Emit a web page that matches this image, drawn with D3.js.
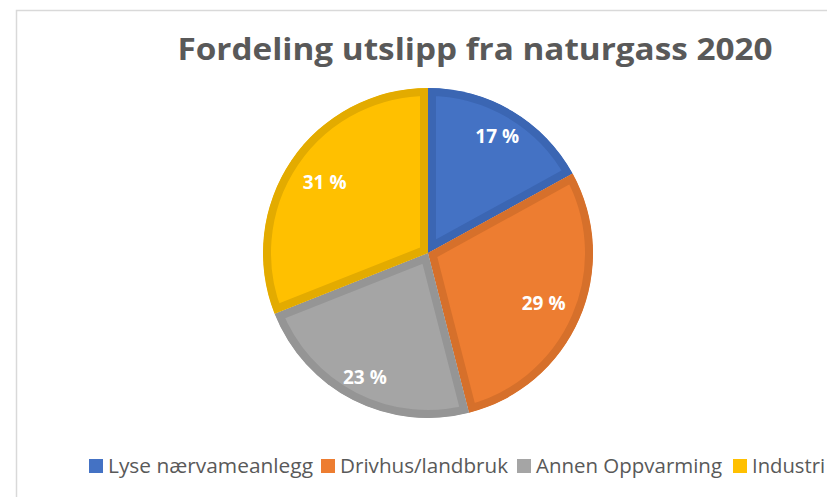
<!DOCTYPE html>
<html>
<head>
<meta charset="utf-8">
<script src="https://cdn.jsdelivr.net/npm/d3@7"></script>
<style>
  html, body { margin: 0; padding: 0; background: #fff; }
  svg { display: block; }
</style>
</head>
<body>
<svg id="chart" width="827" height="497"></svg>
<script>
const title = "Fordeling utslipp fra naturgass 2020";
const categories = ["Lyse nærvameanlegg", "Drivhus/landbruk", "Annen Oppvarming", "Industri"];
const values = [17, 29, 23, 31];
const labels = ["17 %", "29 %", "23 %", "31 %"];

const fills = ["#4472C4", "#ED7D31", "#A5A5A5", "#FFC000"];
const strokes = ["#3B66B3", "#D6702B", "#959595", "#E3AB00"];
const labelRadius = [136, 126, 139, 125];

const svg = d3.select("#chart");
const W = 827, H = 497;

// chart frame
svg.append("rect")
  .attr("x", 16.5).attr("y", 10.5)
  .attr("width", W + 20).attr("height", H + 20)
  .attr("fill", "#fff").attr("stroke", "#d9d9d9").attr("stroke-width", 1.5);

// title
svg.append("text")
  .attr("x", 475).attr("y", 60)
  .attr("text-anchor", "middle")
  .attr("font-family", "'Open Sans', sans-serif")
  .attr("font-weight", "bold")
  .attr("font-size", 30)
  .attr("fill", "#595959")
  .attr("textLength", 595)
  .attr("lengthAdjust", "spacingAndGlyphs")
  .text(title);

// pie
const cx = 428, cy = 253, R = 165, sw = 8;
const pie = d3.pie().sort(null).value(d => d);
const arcs = pie(values);
const arc = d3.arc().innerRadius(0).outerRadius(R);

const defs = svg.append("defs");
defs.selectAll("clipPath")
  .data(arcs)
  .join("clipPath")
  .attr("id", (d, i) => "clip" + i)
  .append("path")
  .attr("d", arc);

const g = svg.append("g").attr("transform", `translate(${cx},${cy})`);
g.selectAll("path.slice")
  .data(arcs)
  .join("path")
  .attr("class", "slice")
  .attr("d", arc)
  .attr("fill", (d, i) => fills[i])
  .attr("stroke", (d, i) => strokes[i])
  .attr("stroke-width", sw * 2)
  .attr("stroke-linejoin", "miter")
  .attr("clip-path", (d, i) => `url(#clip${i})`);

g.selectAll("text.lbl")
  .data(arcs)
  .join("text")
  .attr("class", "lbl")
  .attr("transform", (d, i) => {
    const la = d3.arc().innerRadius(labelRadius[i]).outerRadius(labelRadius[i]);
    return `translate(${la.centroid(d)})`;
  })
  .attr("text-anchor", "middle")
  .attr("dy", "0.35em")
  .attr("font-family", "'Open Sans', sans-serif")
  .attr("font-weight", "bold")
  .attr("font-size", 19)
  .attr("fill", "#fff")
  .text((d, i) => labels[i]);

// legend
const legendX = [89, 321, 517, 733];
const legendW = [205, 168, 186, 73];
const lg = svg.append("g");
categories.forEach((c, i) => {
  lg.append("rect")
    .attr("x", legendX[i]).attr("y", 459)
    .attr("width", 14).attr("height", 14)
    .attr("fill", fills[i]);
  lg.append("text")
    .attr("x", legendX[i] + 19).attr("y", 473)
    .attr("font-family", "'Open Sans', sans-serif")
    .attr("font-size", 20)
    .attr("fill", "#595959")
    .attr("textLength", legendW[i])
    .attr("lengthAdjust", "spacingAndGlyphs")
    .text(c);
});
</script>
</body>
</html>
